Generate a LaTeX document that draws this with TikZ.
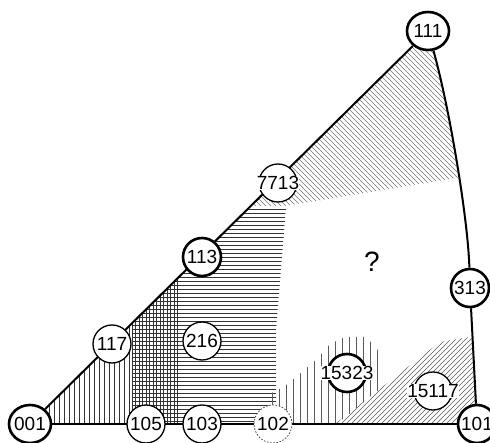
\documentclass[tikz,border=0pt]{standalone}
\usepackage{fontspec}
\setmainfont{Liberation Sans}
\usetikzlibrary{backgrounds,shapes.geometric}
\begin{document}
\begin{tikzpicture}[x=1pt,y=-1pt,
  pole/.style={ellipse, draw=black, fill=white, minimum width=38pt, minimum height=38pt, inner sep=0pt},
  thickpole/.style={pole, line width=2.6pt},
  thinpole/.style={pole, line width=1.3pt},
  dashpole/.style={pole, line width=0.8pt, draw=black!70, dash pattern=on 1.6pt off 1.6pt},
  idx/.style={font=\fontsize{19}{19}\selectfont, fill=white, inner sep=0.3pt},
  edge/.style={line width=2pt, black},
  hatchA/.style={line width=0.55pt, black!55},
  hatchB/.style={line width=0.6pt, black!80},
  hatchC/.style={line width=0.6pt, black!80},
  hatchD/.style={line width=0.6pt, black!65},
  hatchE/.style={line width=0.55pt, black!65}
]
\useasboundingbox (0,0) rectangle (490,443);

% poles
\node[thickpole, minimum width=42pt] (n001) at (30,424) {};
\node[thinpole] (n105) at (146,424) {};
\node[thinpole] (n103) at (202,424) {};
\node[dashpole] (n102) at (273,424) {};
\node[thickpole] (n101) at (477,424) {};
\node[thinpole] (n117) at (112,344) {};
\node[thinpole] (n216) at (202,341) {};
\node[thickpole] (n113) at (202,257) {};
\node[thinpole] (n7713) at (278,183) {};
\node[thickpole, minimum width=42pt] (n111) at (428,31) {};
\node[thickpole] (n313) at (470,288) {};
\node[thickpole] (n15323) at (347,373) {};
\node[thinpole] (n15117) at (433,391) {};

% labels
\node[idx] (t001) at (n001) {001};
\node[idx] (t105) at (n105) {105};
\node[idx] (t103) at (n103) {103};
\node[idx] (t102) at (n102) {102};
\node[idx] (t101) at (n101) {101};
\node[idx] (t117) at (n117) {117};
\node[idx] (t216) at (n216) {216};
\node[idx] (t113) at (n113) {113};
\node[idx] (t7713) at (n7713) {7713};
\node[idx] (t111) at (n111) {111};
\node[idx] (t313) at (n313) {313};
\node[idx] (t15323) at (n15323) {15323};
\node[idx] (t15117) at (n15117) {15117};
\node[font=\fontsize{28}{28}\selectfont] (q) at (372,262) {?};

\begin{pgfonlayer}{background}
\begin{scope}
  \clip (30,424) -- (428,31) .. controls (450,110) and (468,220) .. (470,288) -- (477,424) -- cycle;
  % region near 111
  \begin{scope}
    \clip (250,206) -- (285,206) -- (462,177) -- (520,168) -- (520,0) -- (250,0) -- cycle;
    \foreach \k in {0,5,...,480} \draw[hatchA] (\k,0) -- ++(450,450);
  \end{scope}
  % horizontal lines
  \begin{scope}
    \clip (240,207) -- (286,207) -- (276,330) -- (276,424) -- (132,424) -- (132,323) -- (120,323) -- (120,207) -- cycle;
    \foreach \y in {209,213,...,421} \draw[hatchB] (100,\y) -- (300,\y);
  \end{scope}
  % vertical lines near 001
  \begin{scope}
    \clip (0,250) rectangle (180,424);
    \foreach \x in {34,39,...,129} \draw[hatchC] (\x,250) -- (\x,424);
    \foreach \x in {132,135.5,...,180} \draw[hatchC] (\x,250) -- (\x,424);
  \end{scope}
  % vertical dome around 15323
  \begin{scope}
    \clip (260,424) -- (337,424) -- (440,340) -- (440,300) -- (260,300) -- cycle;
    \clip (268,424) -- (268,395) -- (285,386) -- (302,372) -- (318,358) -- (330,344) -- (345,337) -- (365,337) -- (375,345) -- (381,357) -- (383,424) -- cycle;
    \foreach \x in {272,279,...,382} \draw[hatchD] (\x,330) -- (\x,424);
  \end{scope}
  % oblique lines near 101
  \begin{scope}
    \clip (335,424) -- (440,342) -- (476,336) -- (480,424) -- cycle;
    \foreach \k in {300,305,...,500} \draw[hatchE] (\k,430) -- ++(140,-140);
  \end{scope}
\end{scope}
% edges of the triangle
\draw[edge] (n001) -- (n111);
\draw[edge] (n001) -- (n101);
\draw[edge] (n111) .. controls (450,110) and (468,220) .. (n313);
\draw[edge] (n313) -- (n101);
\end{pgfonlayer}
\end{tikzpicture}
\end{document}
